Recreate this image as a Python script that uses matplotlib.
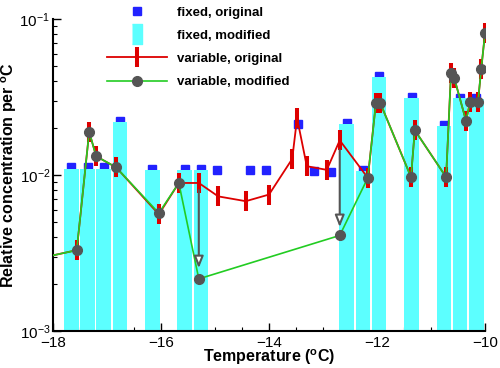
import matplotlib
matplotlib.use("Agg")
import matplotlib.pyplot as plt
from matplotlib.lines import Line2D
from matplotlib.ticker import MultipleLocator, LogLocator

plt.rcParams['font.family'] = ['Liberation Sans', 'DejaVu Sans']
plt.rcParams['mathtext.fontset'] = 'custom'
plt.rcParams['mathtext.rm'] = 'Liberation Sans'
plt.rcParams['mathtext.bf'] = 'Liberation Sans:bold'

# fixed samples
fixed_x = [-17.66, -17.36, -17.06, -16.76, -16.16, -15.56, -15.26,
           -14.96, -14.36, -14.06, -13.46, -13.16, -12.86,
           -12.56, -12.26, -11.96, -11.36, -10.76, -10.46, -10.16]
fixed_orig = [0.0112, 0.0112, 0.0112, 0.0223, 0.0110, 0.0110, 0.0110,
              0.0108, 0.0108, 0.0108, 0.0212, 0.0106, 0.0105,
              0.0216, 0.0108, 0.0432, 0.0318, 0.0210, 0.0312, 0.0312]
mod_x = [-17.66, -17.36, -17.06, -16.76, -16.16, -15.56, -15.26,
         -12.56, -12.26, -11.96, -11.36, -10.76, -10.46, -10.16]
fixed_mod = [0.0110, 0.0110, 0.0110, 0.0219, 0.0108, 0.0108, 0.0108,
             0.0212, 0.0106, 0.0425, 0.0312, 0.0206, 0.0312, 0.0307]

# variable samples
var_x = [-18.3, -17.56, -17.33, -17.20, -16.83, -16.04, -15.67, -15.30,
         -14.94, -14.43, -14.00, -13.57, -13.48, -13.30, -12.93, -12.69,
         -12.17, -12.02, -11.94, -11.37, -11.30, -10.72, -10.63, -10.57,
         -10.35, -10.28, -10.13, -10.07, -10.00]
var_orig = [0.0029, 0.0033, 0.0189, 0.0132, 0.0112, 0.0056, 0.0089, 0.0089,
            0.0073, 0.0068, 0.0075, 0.0127, 0.0232, 0.0114, 0.0108, 0.0167,
            0.0096, 0.0290, 0.0290, 0.0097, 0.0194, 0.0097, 0.0450, 0.0420,
            0.0222, 0.0294, 0.0294, 0.0478, 0.0813]
vmod_x = [-18.3, -17.56, -17.33, -17.20, -16.83, -16.04, -15.67, -15.30,
          -12.69, -12.17, -12.02, -11.94, -11.37, -11.30, -10.72, -10.63,
          -10.57, -10.35, -10.28, -10.13, -10.07, -10.00]
var_mod = [0.0029, 0.0033, 0.0189, 0.0132, 0.0112, 0.0057, 0.0089, 0.00216,
           0.0041, 0.0096, 0.0290, 0.0290, 0.0097, 0.0194, 0.0097, 0.0450,
           0.0420, 0.0222, 0.0294, 0.0294, 0.0478, 0.0813]

# arrows showing the change original -> modified
arrow_x = [-15.30, -12.69]
arrow_from = [0.0080, 0.0145]
arrow_to = [0.00253, 0.00464]

cyan = '#5cffff'
blue = '#2222ff'
red = '#dd0000'
green = '#22cc22'
gray = '#555555'
ymin = 1e-3

fig = plt.figure(figsize=(5, 3.68), dpi=100)
ax = fig.add_axes([0.106, 0.1005, 0.864, 0.8475])

ax.plot(fixed_x, fixed_orig, 's', color=blue, ms=5.8, zorder=1)
ax.bar(mod_x, [v - ymin for v in fixed_mod], width=0.27, bottom=ymin,
       color=cyan, zorder=2)
ax.plot(var_x, var_orig, '-', color=red, lw=1.3, marker='|', ms=14.4,
        mew=2.9, zorder=3)
ax.plot(vmod_x, var_mod, '-', color=green, lw=1.2, marker='o', ms=7,
        mfc=gray, mec=gray, zorder=4)

for x, y0, y1 in zip(arrow_x, arrow_from, arrow_to):
    ax.annotate('', xy=(x, y1), xytext=(x, y0),
                arrowprops=dict(arrowstyle='-|>,head_length=0.7,head_width=0.28',
                                fc='white', ec=gray, lw=1.5,
                                shrinkA=0, shrinkB=0), zorder=5)

ax.set_yscale('log')
ax.set_xlim(-18, -10)
ax.set_ylim(ymin, 1e-1)
ax.xaxis.set_major_locator(MultipleLocator(2))
ax.xaxis.set_minor_locator(MultipleLocator(0.5))
ax.yaxis.set_minor_locator(LogLocator(subs=range(2, 10)))

for s in ['top', 'right']:
    ax.spines[s].set_visible(False)
for s in ['left', 'bottom']:
    ax.spines[s].set_linewidth(1.5)
ax.tick_params(which='major', direction='in', length=5.5, width=1,
               labelsize=11, pad=2)
ax.tick_params(axis='x', which='major', pad=3.5)
ax.tick_params(which='minor', direction='in', length=3, width=0.8)

ax.set_xlabel(r'Temperature ($^{\mathbf{o}}$C)', fontsize=11.5,
              fontweight='bold', labelpad=-1.5)
ax.set_ylabel(r'Relative concentration per $^{\mathbf{o}}$C', fontsize=11.5,
              fontweight='bold', labelpad=0)

handles = [
    Line2D([], [], ls='none', marker='s', color=blue, ms=5.8),
    Line2D([], [], ls='none', marker=[(-1, -2), (1, -2), (1, 2), (-1, 2)],
           color=cyan, ms=15),
    Line2D([], [], color=red, lw=1.3, marker='|', ms=14.4, mew=2.9),
    Line2D([], [], color=green, lw=1.2, marker='o', ms=7, mfc=gray, mec=gray),
]
labels = ['fixed, original', 'fixed, modified',
          'variable, original', 'variable, modified']
leg = fig.legend(handles, labels, loc='upper left',
                 bbox_to_anchor=(0.191, 1.014), frameon=False, numpoints=1,
                 handlelength=4.5, handletextpad=0.8, labelspacing=0.82,
                 prop={'weight': 'bold', 'size': 9.5})

fig.savefig('out.png', dpi=100)
